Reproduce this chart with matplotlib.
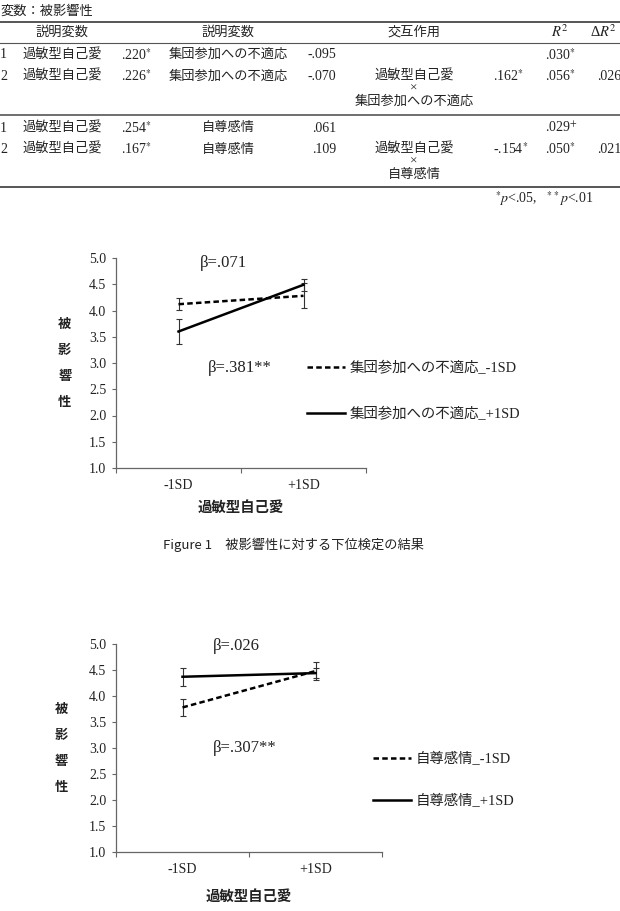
import numpy as np
import matplotlib
matplotlib.use('Agg')
import matplotlib.pyplot as plt
from matplotlib.lines import Line2D

plt.rcParams['mathtext.fontset'] = 'stix'

W, H = 620, 911
JP = ['Noto Sans CJK JP']
SERIF = ['Liberation Serif', 'Noto Sans CJK JP']
INK = '#222222'

# ---- table data ----
table_title = '変数：被影響性'
headers = ['説明変数', '説明変数', '交互作用', '$R^2$', 'Δ$R^2$']
steps = ['1', '2']
pred1 = '過敏型自己愛'
blk1_b1 = ['.220$^{*}$', '.226$^{*}$']
blk1_pred2 = '集団参加への不適応'
blk1_b2 = ['-.095', '-.070']
blk1_inter = ['過敏型自己愛', '×', '集団参加への不適応']
blk1_b3 = '.162$^{*}$'
blk1_r2 = ['.030$^{*}$', '.056$^{*}$']
blk1_dr2 = '.026'
blk2_b1 = ['.254$^{*}$', '.167$^{*}$']
blk2_pred2 = '自尊感情'
blk2_b2 = ['.061', '.109']
blk2_inter = ['過敏型自己愛', '×', '自尊感情']
blk2_b3 = '-.154$^{*}$'
blk2_r2 = ['.029$^{+}$', '.050$^{*}$']
blk2_dr2 = '.021'
footnote = '$^{*}$$\\it{p}$<.05,   $^{**}$$\\it{p}$<.01'

# ---- chart data ----
categories = ['-1SD', '+1SD']
ylabel = '被影響性'
xlabel = '過敏型自己愛'
caption = 'Figure 1　被影響性に対する下位検定の結果'

f1_labels = ['集団参加への不適応_-1SD', '集団参加への不適応_+1SD']
f1_low = [4.12, 4.28]
f1_low_err = [0.11, 0.24]
f1_high = [3.60, 4.49]
f1_high_err = [0.235, 0.11]
f1_betas = ['β=.071', 'β=.381**']

f2_labels = ['自尊感情_-1SD', '自尊感情_+1SD']
f2_low = [3.78, 4.48]
f2_low_err = [0.165, 0.18]
f2_high = [4.37, 4.44]
f2_high_err = [0.17, 0.10]
f2_betas = ['β=.026', 'β=.307**']


def fx(px):
    return px / W


def fy(py):
    return 1 - py / H


fig = plt.figure(figsize=(W / 100, H / 100), dpi=100)


def put(x, y, s, ha='left', fam=SERIF, size=9.5, **kw):
    fig.text(fx(x), fy(y), s, ha=ha, va='center', family=fam,
             fontsize=size, color=INK, **kw)


def hline(y, lw):
    fig.add_artist(Line2D([0, 1], [fy(y), fy(y)], transform=fig.transFigure,
                          color='#555555', lw=lw))


# ---- table ----
put(0, 11, table_title)
hline(22, 1.4)
hline(43, 0.8)
hline(115, 1.2)
hline(187, 1.4)
for s, x in zip(headers[:3], [62, 228, 414]):
    put(x, 32, s, ha='center')
put(560, 32, headers[3], ha='center', size=10.5)
put(617, 32, headers[4], ha='right', size=10.5)

blocks = [
    (55, blk1_b1, blk1_pred2, blk1_b2, blk1_inter, blk1_b3, blk1_r2, blk1_dr2),
    (128, blk2_b1, blk2_pred2, blk2_b2, blk2_inter, blk2_b3, blk2_r2, blk2_dr2),
]
for y0, b1, p2, b2, inter, b3, r2, dr2 in blocks:
    for i in range(2):
        y = y0 + 21.5 * i
        put(0, y, steps[i], size=10)
        put(23, y, pred1)
        put(121, y, b1[i], size=10)
        put(228, y, p2, ha='center')
        put(336, y, b2[i], ha='right', size=10)
        put(545, y, r2[i], size=10)
    y2 = y0 + 21.5
    for j, s in enumerate(inter):
        put(414, y2 + 12.5 * j, s, ha='center')
    put(493, y2, b3, size=10)
    put(597, y2, dr2, size=10)
put(593, 199, footnote, ha='right', size=10)

put(163, 545, caption, fam=JP, size=9.5)


# ---- charts ----
def chart(rect, low, low_err, high, high_err, labels, betas, beta_xy,
          leg_xy, leg_space, xlab_y):
    ax = fig.add_axes(rect)
    xs = np.arange(len(categories)) + 0.5
    ax.errorbar(xs, low, yerr=low_err, color='black', lw=1.8,
                dashes=(2.2, 1.3), ecolor='#333333', elinewidth=0.8,
                capsize=2.5, capthick=0.8)
    ax.errorbar(xs, high, yerr=high_err, color='black', lw=1.8,
                ecolor='#333333', elinewidth=0.8,
                capsize=2.5, capthick=0.8)
    ax.set_xlim(0, 2)
    ax.set_ylim(1, 5)
    ax.set_yticks(np.arange(1, 5.01, 0.5))
    ax.set_yticklabels(['%.1f' % v for v in np.arange(1, 5.01, 0.5)],
                       family=SERIF, fontsize=10, color=INK)
    ax.set_xticks([0, 1, 2])
    ax.set_xticklabels([])
    ax.set_xticks(xs, minor=True)
    ax.set_xticklabels(categories, minor=True, family=SERIF, fontsize=10,
                       color=INK)
    ax.tick_params(axis='x', which='minor', length=0, pad=8)
    ax.tick_params(axis='x', which='major', length=3.5, color='#666666')
    ax.tick_params(axis='y', length=3, pad=4, color='#666666')
    for sp in ['top', 'right']:
        ax.spines[sp].set_visible(False)
    for sp in ['left', 'bottom']:
        ax.spines[sp].set_color('#666666')
        ax.spines[sp].set_linewidth(0.9)
    for s, (bx, by) in zip(betas, beta_xy):
        ax.text(bx, by, s, family=SERIF, fontsize=12, color=INK,
                ha='left', va='center')
    handles = [Line2D([], [], color='black', lw=1.8, dashes=(2.2, 1.3)),
               Line2D([], [], color='black', lw=1.8)]
    ax.legend(handles, labels, loc='upper left',
              bbox_to_anchor=(fx(leg_xy[0]), fy(leg_xy[1])),
              bbox_transform=fig.transFigure, frameon=False, borderpad=0,
              borderaxespad=0, handlelength=2.6, handletextpad=0.35,
              labelspacing=leg_space, prop={'family': SERIF, 'size': 10.4},
              labelcolor=INK)
    # stacked vertical y label
    for k, ch in enumerate(ylabel):
        ax.text(-0.205, 0.5 + (1.5 - k) * 0.125, ch, transform=ax.transAxes,
                family=JP, fontsize=9.5, fontweight='bold', color=INK,
                ha='center', va='center')
    fig.text(rect[0] + rect[2] / 2, fy(xlab_y), xlabel, family=JP,
             fontsize=10.4, fontweight='bold', color=INK, ha='center',
             va='center')
    return ax


chart([fx(116), fy(468), fx(366) - fx(116), fy(258) - fy(468)],
      f1_low, f1_low_err, f1_high, f1_high_err, f1_labels, f1_betas,
      [(0.67, 4.9), (0.735, 2.9)], (307, 361), 2.2, 508)

chart([fx(116), fy(852), fx(382) - fx(116), fy(644) - fy(852)],
      f2_low, f2_low_err, f2_high, f2_high_err, f2_labels, f2_betas,
      [(0.73, 4.96), (0.73, 3.0)], (373, 752), 1.95, 897)

fig.savefig('out.png', dpi=100)
